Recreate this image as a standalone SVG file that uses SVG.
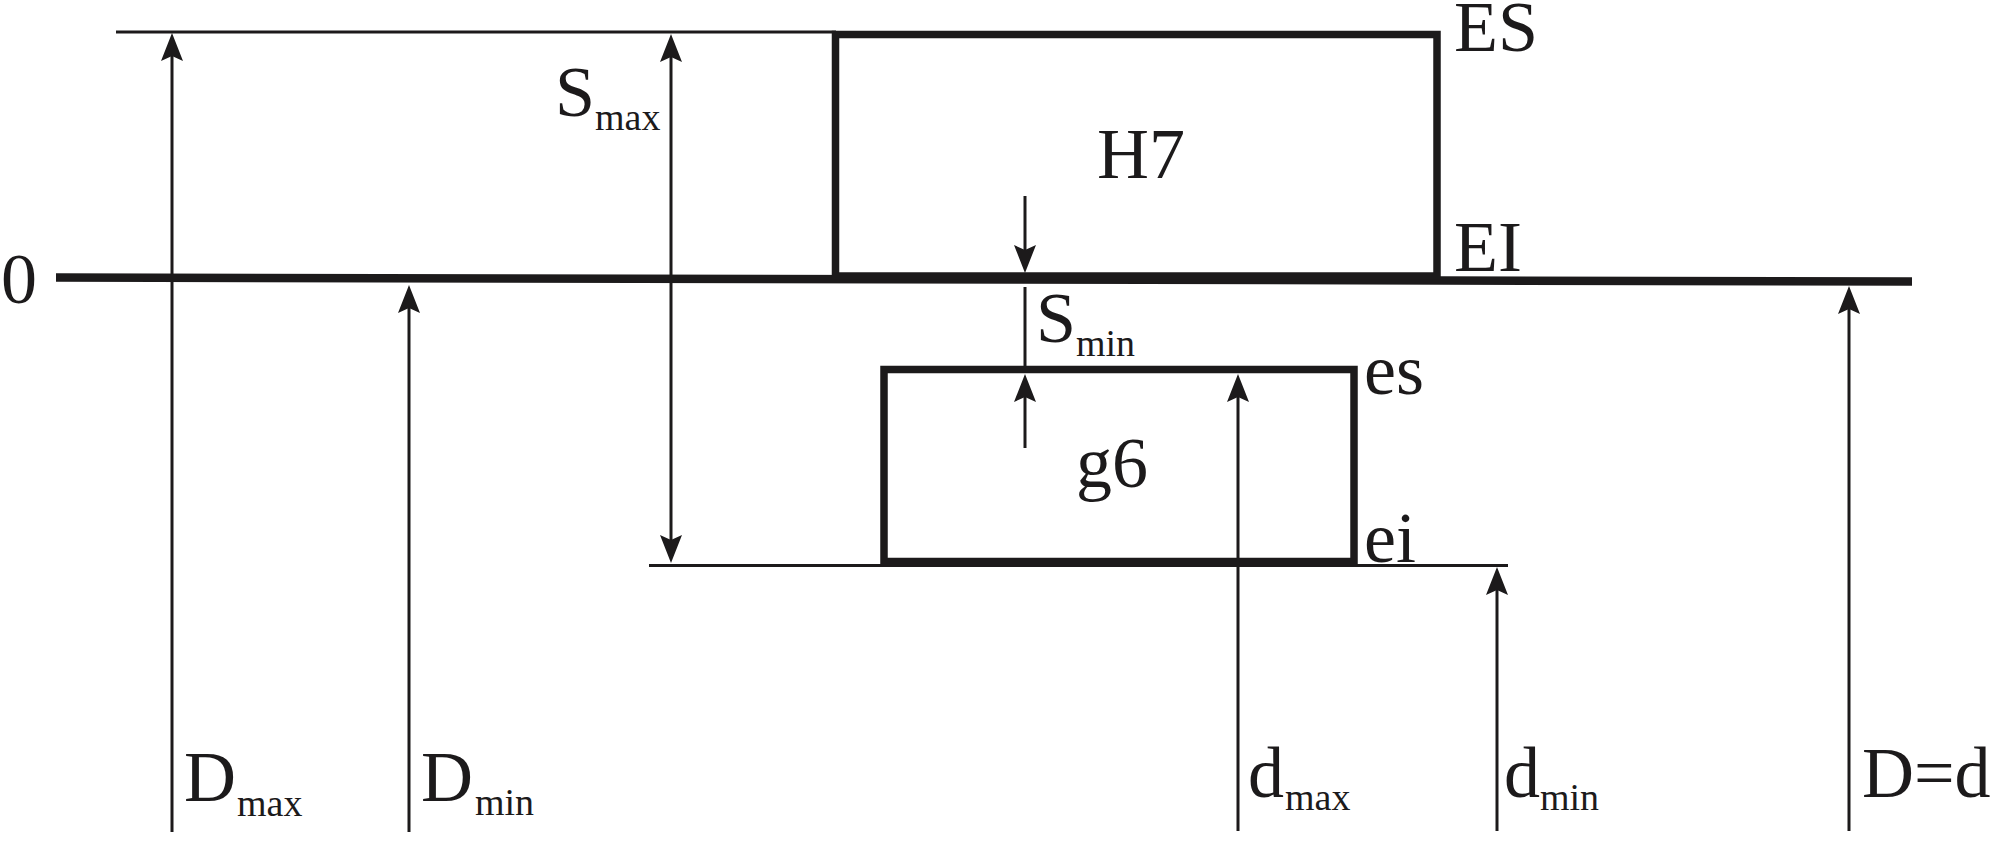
<svg xmlns="http://www.w3.org/2000/svg" width="1996" height="864" viewBox="0 0 1996 864">
<style>
.thin{stroke:#1c1a1b;stroke-width:3;fill:none}
.thick{stroke:#1c1a1b;stroke-width:7.5;fill:none}
.zero{stroke:#1c1a1b;stroke-width:8.5;fill:none}
.arr{stroke:#1c1a1b;stroke-width:3;fill:none;marker-end:url(#ah)}
.arr2{stroke:#1c1a1b;stroke-width:3;fill:none;marker-start:url(#ahs);marker-end:url(#ah)}
.lbl{font-family:"Liberation Serif","Times New Roman",serif;font-size:72px;fill:#1c1a1b}
.sub{font-family:"Liberation Serif","Times New Roman",serif;font-size:38px;fill:#1c1a1b}
</style>
<defs>
<marker id="ah" viewBox="-28 -12 29 24" refX="-10" refY="0" markerWidth="29" markerHeight="24" markerUnits="userSpaceOnUse" orient="auto">
<path d="M0,0 L-28,-11 L-23,0 L-28,11 Z" fill="#1c1a1b"/>
</marker>
<marker id="ahs" viewBox="-28 -12 29 24" refX="-10" refY="0" markerWidth="29" markerHeight="24" markerUnits="userSpaceOnUse" orient="auto-start-reverse">
<path d="M0,0 L-28,-11 L-23,0 L-28,11 Z" fill="#1c1a1b"/>
</marker>
</defs>
<rect width="1996" height="864" fill="#ffffff"/>

<g id="reference-lines">
<line class="thin" x1="116" y1="32" x2="836" y2="32"/>
<line class="zero" x1="56" y1="277.5" x2="1912" y2="281.5"/>
<line class="thin" x1="649" y1="565.5" x2="1508" y2="565.5"/>
</g>

<g id="H7">
<rect class="thick" x="835.5" y="34.5" width="601.5" height="241.5"/>
<text class="lbl" x="1097" y="178">H7</text>
<text class="lbl" x="1454" y="51">ES</text>
<text class="lbl" x="1454" y="271">EI</text>
</g>

<g id="g6">
<rect class="thick" x="884" y="369.5" width="470" height="192"/>
<text class="lbl" x="1076" y="487">g6</text>
<text class="lbl" x="1364" y="394">es</text>
<text class="lbl" x="1364" y="562">ei</text>
</g>

<g id="connectors">
<line class="arr" x1="172" y1="832" x2="172" y2="43"/>
<line class="arr" x1="409" y1="832" x2="409" y2="295"/>
<line class="arr2" x1="671" y1="44" x2="671" y2="553"/>
<line class="arr" x1="1025" y1="196" x2="1025" y2="263"/>
<line class="thin" x1="1025" y1="287" x2="1025" y2="366"/>
<line class="arr" x1="1025" y1="448" x2="1025" y2="384"/>
<line class="arr" x1="1238" y1="831" x2="1238" y2="384"/>
<line class="arr" x1="1497" y1="831" x2="1497" y2="577"/>
<line class="arr" x1="1849" y1="831" x2="1849" y2="296"/>
</g>

<g id="labels">
<text class="lbl" x="1" y="303">0</text>
<text class="lbl" x="555" y="116">S</text><text class="sub" x="595" y="130">max</text>
<text class="lbl" x="1036" y="342">S</text><text class="sub" x="1076" y="356">min</text>
<text class="lbl" x="184" y="801">D</text><text class="sub" x="237" y="816">max</text>
<text class="lbl" x="421" y="801">D</text><text class="sub" x="475" y="815">min</text>
<text class="lbl" x="1248" y="797">d</text><text class="sub" x="1285" y="810">max</text>
<text class="lbl" x="1504" y="797">d</text><text class="sub" x="1540" y="810">min</text>
<text class="lbl" x="1862" y="797">D=d</text>
</g>
</svg>
